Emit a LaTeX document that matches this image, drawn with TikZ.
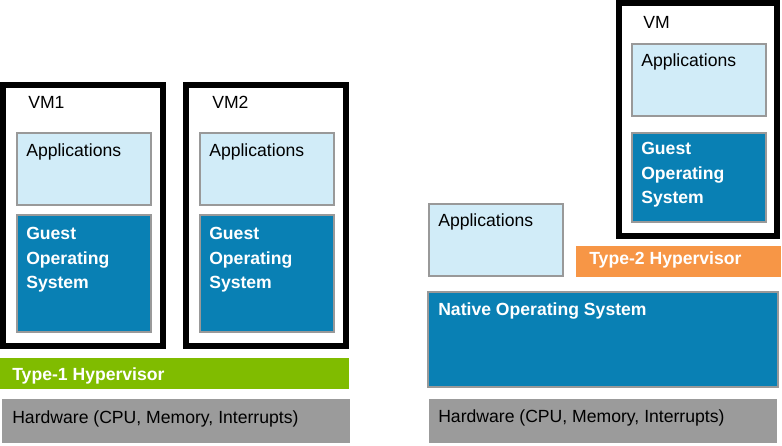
\documentclass[tikz,border=0pt]{standalone}
\usepackage{fontspec}
\setmainfont{Liberation Sans}
\definecolor{appblue}{RGB}{209,236,248}
\definecolor{osblue}{RGB}{9,128,180}
\definecolor{edgegray}{RGB}{153,153,153}
\definecolor{hvgreen}{RGB}{128,188,0}
\definecolor{hvorange}{RGB}{247,150,70}
\definecolor{hwgray}{RGB}{155,155,155}
\tikzset{
  vmbox/.style={draw=black,line width=4.5pt,fill=white},
  appbox/.style={draw=edgegray,line width=2pt,fill=appblue},
  osbox/.style={draw=edgegray,line width=2pt,fill=osblue},
  lbl/.style={anchor=base west,inner sep=0pt,font=\fontsize{13.2}{18.4}\selectfont},
  wlbl/.style={lbl,text=white,font=\fontsize{13.2}{18.4}\selectfont\bfseries},
  oslbl/.style={wlbl,anchor=north west,align=left}
}
\begin{document}
\begin{tikzpicture}[x=0.75pt,y=-0.75pt]
\useasboundingbox (0,0) rectangle (782,446);
% Type-1 side
\draw[vmbox] (3,84.5) rectangle (162.5,346);
\draw[vmbox] (186,84.5) rectangle (346,346);
\draw[appbox] (17,133) rectangle (151,205);
\draw[osbox] (17,215) rectangle (151,332);
\draw[appbox] (200,133) rectangle (334,205);
\draw[osbox] (200,215) rectangle (334,332);
\fill[hvgreen] (0,358) rectangle (349,389);
\fill[hwgray] (2,399) rectangle (350,443);
\node[lbl] (vmone) at (28,108.4) {VM1};
\node[lbl] (vmtwo) at (212,108.4) {VM2};
\node[lbl] (appone) at (26,156) {Applications};
\node[lbl] (apptwo) at (209,156) {Applications};
\node[oslbl] (osone) at (26,227.2) {Guest\\Operating\\System};
\node[oslbl] (ostwo) at (209,227.2) {Guest\\Operating\\System};
\node[wlbl] (hvone) at (12,380) {Type-1 Hypervisor};
\node[lbl] (hwone) at (12,423) {Hardware (CPU, Memory, Interrupts)};
% Type-2 side
\draw[vmbox] (619,3) rectangle (777,236);
\draw[appbox] (632,44) rectangle (766,116);
\draw[osbox] (632,133) rectangle (766,222);
\draw[appbox] (429,204) rectangle (563,276);
\fill[hvorange] (576,246) rectangle (781,277);
\draw[osbox] (428,292) rectangle (778,387);
\fill[hwgray] (429,399) rectangle (777,443);
\node[lbl] (vm) at (643,28.4) {VM};
\node[lbl] (appvm) at (641,66.7) {Applications};
\node[oslbl] (osvm) at (641,142.2) {Guest\\Operating\\System};
\node[lbl] (appnative) at (438,226.7) {Applications};
\node[wlbl] (hvtwo) at (589,264) {Type-2 Hypervisor};
\node[wlbl] (native) at (438,315) {Native Operating System};
\node[lbl] (hwtwo) at (438,422) {Hardware (CPU, Memory, Interrupts)};
\end{tikzpicture}
\end{document}
